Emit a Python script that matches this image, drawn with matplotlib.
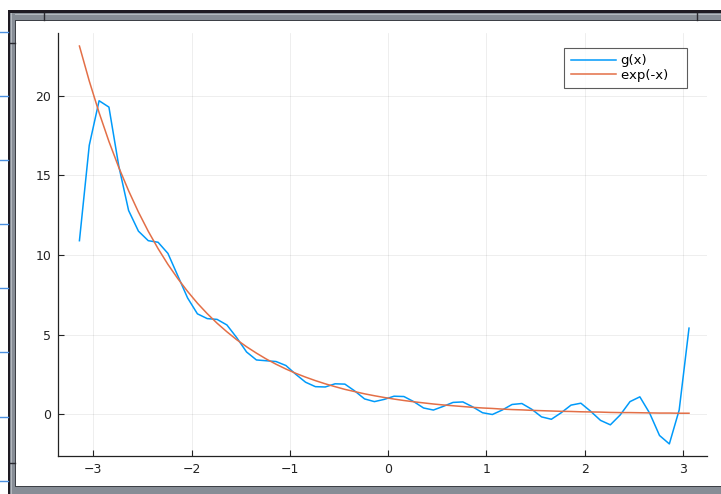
import matplotlib.pyplot as plt
from matplotlib.patches import Rectangle
from matplotlib.lines import Line2D

# sample points
x = [-3.14, -3.04, -2.94, -2.84, -2.74, -2.64, -2.54, -2.44, -2.34, -2.24,
     -2.14, -2.04, -1.94, -1.84, -1.74, -1.64, -1.54, -1.44, -1.34, -1.24,
     -1.14, -1.04, -0.94, -0.84, -0.74, -0.64, -0.54, -0.44, -0.34, -0.24,
     -0.14, -0.04, 0.06, 0.16, 0.26, 0.36, 0.46, 0.56, 0.66, 0.76,
     0.86, 0.96, 1.06, 1.16, 1.26, 1.36, 1.46, 1.56, 1.66, 1.76,
     1.86, 1.96, 2.06, 2.16, 2.26, 2.36, 2.46, 2.56, 2.66, 2.76,
     2.86, 2.96, 3.06]

# approximation g(x)
g = [10.9, 16.9, 19.7, 19.3, 15.6, 12.8, 11.5, 10.9, 10.8, 10.1,
     8.7, 7.3, 6.3, 6.0, 5.95, 5.6, 4.8, 3.9, 3.4, 3.35,
     3.3, 3.05, 2.5, 2.0, 1.72, 1.7, 1.9, 1.88, 1.45, 0.95,
     0.78, 0.92, 1.12, 1.1, 0.78, 0.38, 0.25, 0.48, 0.73, 0.76,
     0.45, 0.08, -0.03, 0.25, 0.6, 0.66, 0.3, -0.18, -0.33, 0.08,
     0.56, 0.68, 0.17, -0.4, -0.68, -0.06, 0.78, 1.08, 0.05, -1.35,
     -1.88, 0.25, 5.4]

# exp(-x) at the same points
expx = [23.14, 20.94, 18.95, 17.14, 15.51, 14.04, 12.70, 11.49, 10.40, 9.41,
        8.52, 7.71, 6.97, 6.31, 5.71, 5.17, 4.67, 4.23, 3.83, 3.46,
        3.13, 2.83, 2.56, 2.32, 2.10, 1.90, 1.72, 1.55, 1.41, 1.27,
        1.15, 1.04, 0.94, 0.85, 0.77, 0.70, 0.63, 0.57, 0.52, 0.47,
        0.42, 0.38, 0.35, 0.31, 0.28, 0.26, 0.23, 0.21, 0.19, 0.17,
        0.16, 0.14, 0.13, 0.12, 0.10, 0.09, 0.09, 0.08, 0.07, 0.06,
        0.06, 0.05, 0.05]

xticks = [-3, -2, -1, 0, 1, 2, 3]
yticks = [0, 5, 10, 15, 20]

W, H = 721, 494
fig = plt.figure(figsize=(W / 100, H / 100), dpi=100)
fig.patch.set_facecolor('white')


def box(x0, y0, x1, y1, color):
    # rectangle in pixel units, measured from the top-left corner
    fig.add_artist(Rectangle((x0 / W, 1 - y1 / H), (x1 - x0) / W, (y1 - y0) / H,
                             transform=fig.transFigure, facecolor=color,
                             edgecolor='none', zorder=5))


def seg(x0, y0, x1, y1, color, lw=1.0):
    fig.add_artist(Line2D([x0 / W, x1 / W], [1 - y0 / H, 1 - y1 / H],
                          transform=fig.transFigure, color=color, lw=lw, zorder=6))


# window frame
box(8, 10, W, 13, '#1e1a22')
box(8, 13, W, 20, '#878d96')
box(8, 14, W, 15, '#b3b8be')
box(8, 20, W, 21, '#3d4046')
box(8, 10, 10, H, '#1e1a22')
box(10, 13, 15, H, '#878d96')
box(11, 13, 12, H, '#b3b8be')
box(15, 20, 16, H, '#3d4046')
box(15, 486, W, 487, '#3d4046')
box(15, 487, W, H, '#878d96')
seg(10, 43, 15, 43, '#2a2a30')
seg(10, 463, 15, 463, '#2a2a30')
seg(44, 13, 44, 20, '#2a2a30')
seg(697, 13, 697, 20, '#2a2a30')

# marks from the window behind
for yy in [32, 96, 160, 224, 288, 352, 417, 481]:
    seg(0, yy, 8, yy, '#4a8fe0', lw=1.0)

ax = fig.add_axes([58 / W, 1 - 456 / H, (707 - 58) / W, (456 - 33) / H])
ax.plot(x, g, color='#009AFA', lw=1.1, label='g(x)')
ax.plot(x, expx, color='#E36F47', lw=1.1, label='exp(-x)   ')

ax.set_xlim(-3.358, 3.243)
ax.set_ylim(-2.64, 23.96)
ax.set_xticks(xticks)
ax.set_yticks(yticks)
ax.grid(True, color='black', alpha=0.08, lw=0.6)
ax.set_axisbelow(True)
for side in ['top', 'right']:
    ax.spines[side].set_visible(False)
for side in ['left', 'bottom']:
    ax.spines[side].set_color('#222222')
    ax.spines[side].set_linewidth(0.9)
ax.tick_params(direction='in', length=4, width=0.8, labelsize=9,
               colors='#222222', pad=5)

leg = ax.legend(loc='upper right', bbox_to_anchor=(0.9692, 0.9645), fontsize=9.5,
                frameon=True, fancybox=False, edgecolor='#333333',
                handlelength=3.4, handletextpad=0.38, labelspacing=0.13,
                borderpad=0.48, borderaxespad=0)
leg.get_frame().set_linewidth(0.8)

fig.savefig('out.png', dpi=100)
